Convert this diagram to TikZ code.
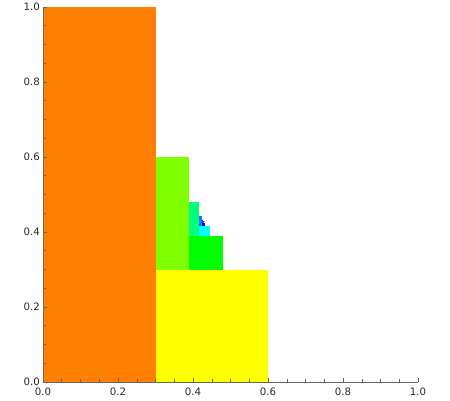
\documentclass[tikz,border=0pt]{standalone}
\usepackage{fontspec}
\setmainfont{DejaVu Sans}
\usepackage{xcolor}
\usetikzlibrary{positioning}
\definecolor{axisgray}{gray}{0.4}
\tikzset{
  axline/.style={draw=axisgray,line width=0.5pt},
  majtick/.style={draw=axisgray,line width=0.4pt},
  mintick/.style={draw=axisgray,line width=0.3pt},
  ticklab/.style={font=\fontsize{5.8}{7}\selectfont,text=black!85,inner sep=1pt},
}

\begin{document}
\begin{tikzpicture}[x=7.5cm,y=7.5cm]
\useasboundingbox (-0.1147,-0.048) rectangle (1.0853,1.0187);
% tall strip and square, each step scaled by 0.3
\foreach \k in {0,...,7}{
  \pgfmathsetmacro\w{0.3^(\k+1)}
  \pgfmathsetmacro\a{0.3*(1-0.3^\k)/0.7}
  \pgfmathsetmacro\hta{mod(30+60*\k,360)}
  \pgfmathsetmacro\htb{mod(60+60*\k,360)}
  \definecolor{tallc}{Hsb}{\hta,1,1}
  \definecolor{sqc}{Hsb}{\htb,1,1}
  \fill[tallc] (\a,\a) rectangle ({\a+\w},{\a+\w/0.3});
  \fill[sqc] ({\a+\w},\a) rectangle ({\a+2*\w},{\a+\w});
}
% axes
\coordinate (o) at (0,0);
\coordinate (xe) at (1,0);
\coordinate (ye) at (0,1);
\draw[axline] (xe) -- (o) -- (ye);
\foreach \t in {0.05,0.1,...,0.96}{
  \draw[mintick] (\t,0) -- ++(0,0.0067);
  \draw[mintick] (0,\t) -- ++(0.0067,0);
}
\foreach \t/\l in {0/0.0,0.2/0.2,0.4/0.4,0.6/0.6,0.8/0.8,1/1.0}{
  \draw[majtick] (\t,0) -- ++(0,0.0107);
  \draw[majtick] (0,\t) -- ++(0.0107,0);
  \node[ticklab,below] (xl\l) at (\t,-0.009) {\l};
  \node[ticklab,left] (yl\l) at (-0.003,\t) {\l};
}
\end{tikzpicture}
\end{document}
